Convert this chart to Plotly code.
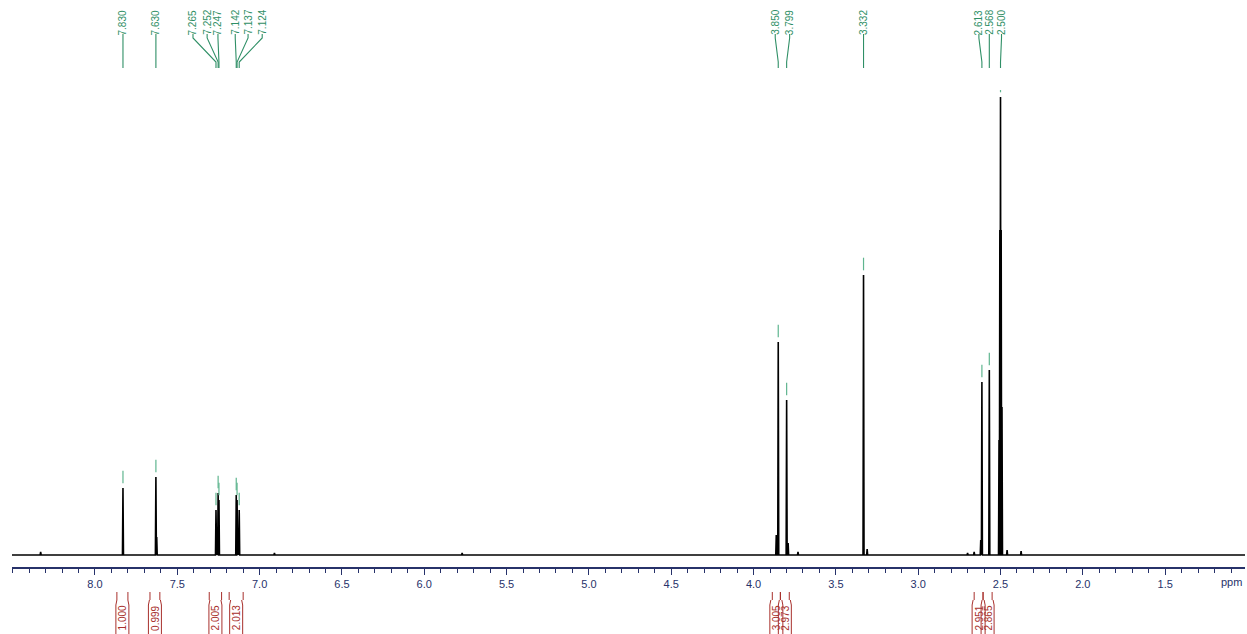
import plotly.graph_objects as go

# ---------------- data ----------------
# labelled peaks (ppm) and their heights (arbitrary intensity units)
peak_ppm = [7.830, 7.630, 7.265, 7.252, 7.247, 7.142, 7.137, 7.124,
            3.850, 3.799, 3.332, 2.613, 2.568, 2.500]
peak_height = [67, 78, 45, 62, 55, 60, 55, 45,
               213, 155, 280, 173, 185, 458]
peak_labels = ["7.830", "7.630", "7.265", "7.252", "7.247", "7.142", "7.137", "7.124",
               "3.850", "3.799", "3.332", "2.613", "2.568", "2.500"]

# unlabelled lines (shoulders, solvent multiplet, small impurities)
minor_ppm = [8.330, 7.625, 7.258, 7.130, 6.910, 5.770, 3.862, 3.790, 3.730,
             3.310, 2.700, 2.660, 2.620, 2.509, 2.504, 2.496, 2.491, 2.460, 2.375]
minor_height = [3, 18, 12, 12, 2, 2, 20, 12, 3,
                6, 2, 3, 15, 115, 325, 325, 148, 5, 4]

# integrals: region bounds (ppm) and values
int_from = [7.867, 7.666, 7.306, 7.185, 3.886, 3.837, 2.660, 2.606]
int_to = [7.800, 7.606, 7.231, 7.100, 3.837, 3.783, 2.606, 2.551]
int_values = ["1.000", "0.999", "2.005", "2.013", "3.005", "2.973", "2.951", "2.865"]

tick_values = [8.0, 7.5, 7.0, 6.5, 6.0, 5.5, 5.0, 4.5, 4.0, 3.5, 3.0, 2.5, 2.0, 1.5]
tick_text = ["8.0", "7.5", "7.0", "6.5", "6.0", "5.5", "5.0", "4.5", "4.0", "3.5",
             "3.0", "2.5", "2.0", "1.5"]

X_MAX, X_MIN = 8.504, 1.015

# ---------------- styling ----------------
GREEN = "#2f8f66"
GREEN_LIGHT = "#5fb58f"
RED = "#a8302c"
AXIS = "#27326a"
FONT = "Liberation Sans, Arial, sans-serif"
HALF_W = 0.003  # half width of a drawn line (ppm)

# label offsets (px) of the top labels relative to their peak
label_dx = [0, 0, -23, -11, -1, -1, 11, 23, -3, 3, 0, -3, 0, 1]

# ---------------- build the trace ----------------
lines = sorted(zip(peak_ppm + minor_ppm, peak_height + minor_height), reverse=True)
xs, ys = [X_MAX], [0]
for p, h in lines:
    xs += [p + HALF_W, p, p - HALF_W]
    ys += [0, h, 0]
xs.append(X_MIN)
ys.append(0)

fig = go.Figure()
fig.add_trace(go.Scatter(x=xs, y=ys, mode="lines",
                         line=dict(color="black", width=1.6),
                         hoverinfo="skip"))
# small peak-pick markers above each labelled line
fig.add_trace(go.Scatter(x=peak_ppm, y=[h + 11 for h in peak_height], mode="markers",
                         marker=dict(symbol="line-ns", size=9,
                                     line=dict(color=GREEN_LIGHT, width=1.2)),
                         hoverinfo="skip"))

shapes = []
annotations = []
# top peak labels with connectors
for p, lab, dx in zip(peak_ppm, peak_labels, label_dx):
    annotations.append(dict(x=p, xref="x", xshift=dx, y=1, yref="paper", yshift=67.5,
                            text=lab, textangle=-90, showarrow=False,
                            xanchor="center", yanchor="middle",
                            font=dict(family=FONT, size=10, color=GREEN)))
    shapes.append(dict(type="path", xref="x", xsizemode="pixel", xanchor=p,
                       yref="paper", ysizemode="pixel", yanchor=1,
                       path=f"M{dx},56 L{dx},52 L0,28 L0,22",
                       line=dict(color=GREEN, width=1.1)))

# integrals below the axis
for a, b, v in zip(int_from, int_to, int_values):
    c = (a + b) / 2
    for bound in (a, b):
        shapes.append(dict(type="line", xref="x", x0=bound, x1=bound,
                           yref="paper", ysizemode="pixel", yanchor=0, y0=-25, y1=-33,
                           line=dict(color=RED, width=1)))
    shapes.append(dict(type="path", xref="x", xsizemode="pixel", xanchor=c,
                       yref="paper", ysizemode="pixel", yanchor=0,
                       path="M-5.5,-33 L-6.5,-38 L-6.5,-70 M5.5,-33 L6.5,-38 L6.5,-70",
                       line=dict(color=RED, width=1)))
    annotations.append(dict(x=c, xref="x", y=0, yref="paper", yshift=-51,
                            text=v, textangle=-90, showarrow=False,
                            xanchor="center", yanchor="middle",
                            font=dict(family=FONT, size=10, color=RED)))

annotations.append(dict(x=1, xref="paper", xshift=-1, y=0, yref="paper", yshift=-15,
                        text="ppm", showarrow=False, xanchor="right", yanchor="middle",
                        font=dict(family=FONT, size=11, color=AXIS)))

fig.update_layout(
    width=1247, height=634,
    margin=dict(l=12, r=2, t=90, b=67),
    paper_bgcolor="white", plot_bgcolor="white",
    showlegend=False, hovermode=False,
    shapes=shapes, annotations=annotations,
    xaxis=dict(range=[X_MAX, X_MIN], tickmode="array", tickvals=tick_values,
               ticktext=tick_text, ticks="outside", ticklen=6, tickwidth=1.2,
               tickcolor=AXIS, showline=True, linecolor=AXIS, linewidth=1.5,
               showgrid=False, zeroline=False, automargin=False,
               tickfont=dict(family=FONT, size=11, color=AXIS),
               minor=dict(tickmode="linear", tick0=0, dtick=0.1, ticks="outside",
                          ticklen=4, tickcolor=AXIS, showgrid=False)),
    yaxis=dict(range=[-12, 465], visible=False),
)

fig.write_html("out.html", config={"displayModeBar": False},
               post_script="document.body.style.margin='0';"
                           "document.body.style.overflow='hidden';")
